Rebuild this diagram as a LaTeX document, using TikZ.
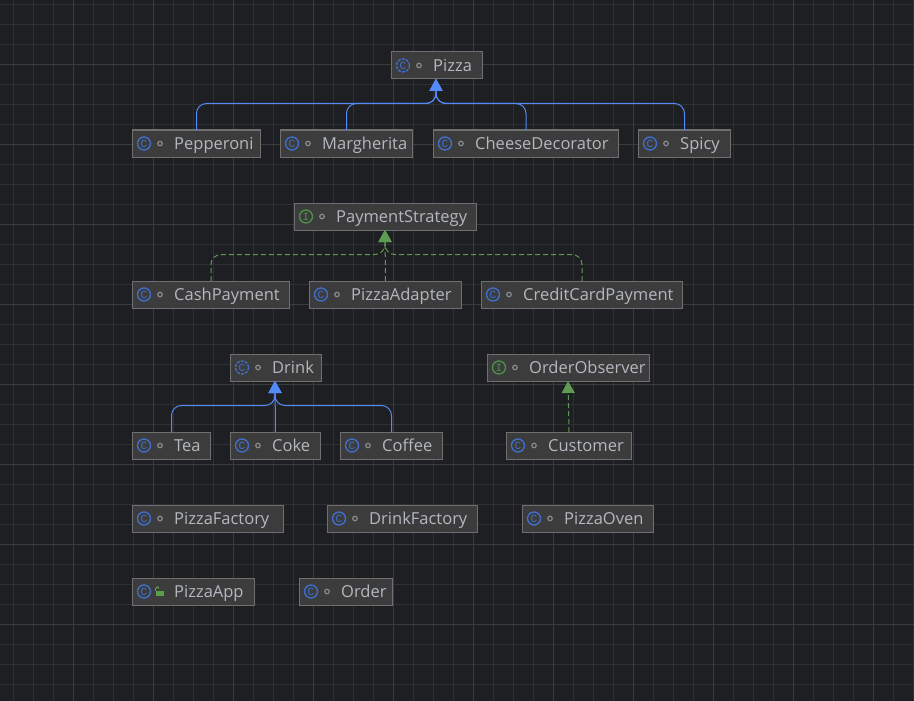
\documentclass[tikz,border=0pt]{standalone}
\usepackage{fontspec}
\setmainfont{Open Sans}
\newfontfamily\iconfont{Liberation Mono}
\usetikzlibrary{arrows.meta}
\definecolor{bgcol}{HTML}{1E1F22}
\definecolor{gridminor}{HTML}{2E3033}
\definecolor{gridmajor}{HTML}{3A3C3E}
\definecolor{boxfill}{HTML}{3C3C3C}
\definecolor{boxedge}{HTML}{6F6F6F}
\definecolor{nametext}{HTML}{B4B8BF}
\definecolor{iconblue}{HTML}{3F6FCF}
\definecolor{icongreen}{HTML}{4F8F4C}
\definecolor{lockgreen}{HTML}{5A9E47}
\definecolor{dotgrey}{HTML}{858B90}
\definecolor{extendblue}{HTML}{548AF7}
\definecolor{implgreen}{HTML}{5F9A52}
\tikzset{
  iconbase/.style={circle,draw,line width=1.3pt,minimum size=13pt,inner sep=0pt,font=\iconfont\fontsize{11}{11}\selectfont,anchor=center,xshift=11.5pt},
  cicon/.style={iconbase,draw=iconblue,text=iconblue},
  aicon/.style={iconbase,draw=iconblue,text=iconblue,dash pattern=on 3pt off 1.2pt},
  iicon/.style={iconbase,draw=icongreen,text=icongreen},
  dotmark/.style={circle,draw=dotgrey,line width=1.2pt,minimum size=4.5pt,inner sep=0pt,anchor=center,xshift=27.5pt},
  nametag/.style={anchor=base west,xshift=41.5pt,yshift=-5.8pt,text=nametext,font=\fontsize{16.5}{17}\selectfont,inner sep=0pt},
  boxbase/.style={draw=boxedge,fill=boxfill,line width=1pt,minimum height=27pt,inner sep=0pt,outer sep=0pt,
    label={[nametag]west:#1}},
  classbox/.style={boxbase=#1,label={[cicon]west:C},label={[dotmark]west:{}}},
  abstractbox/.style={boxbase=#1,label={[aicon]west:C},label={[dotmark]west:{}}},
  ifacebox/.style={boxbase=#1,label={[iicon]west:I},label={[dotmark]west:{}}},
  appbox/.style={boxbase=#1,label={[cicon]west:C}},
  extends/.style={draw=extendblue,line width=1pt,-{Triangle[length=12pt,width=13pt]}},
  implements/.style={draw=implgreen,line width=1pt,dash pattern=on 5pt off 3pt,-{Triangle[length=12pt,width=13pt]}},
}
\begin{document}
\begin{tikzpicture}[x=1pt,y=-1pt]
\useasboundingbox (0,0) rectangle (914,701);
\fill[bgcol] (0,0) rectangle (914,701);
% canvas grid
\foreach \gx in {13.5,33.5,...,913.5} \draw[gridminor,line width=1pt] (\gx,0) -- (\gx,701);
\foreach \gy in {4.5,24.5,...,700.5} \draw[gridminor,line width=1pt] (0,\gy) -- (914,\gy);
\foreach \gx in {73.5,153.5,...,873.5} \draw[gridmajor,line width=1pt] (\gx,0) -- (\gx,701);
\foreach \gy in {64.5,144.5,...,664.5} \draw[gridmajor,line width=1pt] (0,\gy) -- (914,\gy);
% pizza family
\node[abstractbox=Pizza,minimum width=91pt] (pizza) at (437,65.5) {};
\node[classbox=Pepperoni,minimum width=128pt] (pepperoni) at (196.5,143.5) {};
\node[classbox=Margherita,minimum width=132pt] (margherita) at (346.5,143.5) {};
\node[classbox=CheeseDecorator,minimum width=185pt] (cheese) at (526,143.5) {};
\node[classbox=Spicy,minimum width=92pt] (spicy) at (684.5,143.5) {};
% payment family
\node[ifacebox=PaymentStrategy,minimum width=182pt] (payment) at (385.5,216.5) {};
\node[classbox=CashPayment,minimum width=157pt] (cash) at (211,294.5) {};
\node[classbox=PizzaAdapter,minimum width=152pt] (adapter) at (385.5,294.5) {};
\node[classbox=CreditCardPayment,minimum width=201pt] (credit) at (582,294.5) {};
% drinks and observer
\node[abstractbox=Drink,minimum width=91pt] (drink) at (276,367.5) {};
\node[ifacebox=OrderObserver,minimum width=162pt] (observer) at (568.5,367.5) {};
\node[classbox=Tea,minimum width=78pt] (tea) at (171.5,445.5) {};
\node[classbox=Coke,minimum width=90pt] (coke) at (275.5,445.5) {};
\node[classbox=Coffee,minimum width=102pt] (coffee) at (391.5,445.5) {};
\node[classbox=Customer,minimum width=125pt] (customer) at (569,445.5) {};
% the rest
\node[classbox=PizzaFactory,minimum width=151pt] (pizzafactory) at (208,518.5) {};
\node[classbox=DrinkFactory,minimum width=150pt] (drinkfactory) at (402.5,518.5) {};
\node[classbox=PizzaOven,minimum width=131pt] (oven) at (588,518.5) {};
\node[appbox=PizzaApp,minimum width=122pt] (app) at (193.5,591.5) {};
\node[classbox=Order,minimum width=93pt] (order) at (346,591.5) {};
% open lock on PizzaApp
\fill[lockgreen] (156,591) rectangle (163.5,596);
\draw[lockgreen,line width=1pt] (155.5,591) -- (155.5,588.5) arc [start angle=180,end angle=360,radius=1.8];
% bus bars and arrow heads
\coordinate (pizzabus) at (436,103.5);
\coordinate (paybus) at (385,254.5);
\coordinate (drinkbus) at (275,405.5);
\coordinate (pizzahead) at ([xshift=-1pt]pizza.south);
\coordinate (payhead) at ([xshift=-0.5pt]payment.south);
\coordinate (drinkhead) at ([xshift=-1pt]drink.south);
\coordinate (observerhead) at ([xshift=-0.5pt]observer.south);
\draw[extends] (pepperoni.north) [rounded corners=10pt] |- (pizzabus) [rounded corners=4pt] -- (pizzahead);
\draw[extends] (margherita.north) [rounded corners=10pt] |- (pizzabus) [rounded corners=4pt] -- (pizzahead);
\draw[extends] (cheese.north) [rounded corners=10pt] |- (pizzabus) [rounded corners=4pt] -- (pizzahead);
\draw[extends] (spicy.north) [rounded corners=10pt] |- (pizzabus) [rounded corners=4pt] -- (pizzahead);
\draw[implements] (cash.north) [rounded corners=10pt] |- (paybus) [rounded corners=4pt] -- (payhead);
\draw[implements] (adapter.north) -- (payhead);
\draw[implements] (credit.north) [rounded corners=10pt] |- (paybus) [rounded corners=4pt] -- (payhead);
\draw[extends] (tea.north) [rounded corners=10pt] |- (drinkbus) [rounded corners=4pt] -- (drinkhead);
\draw[extends] (coke.north) -- (drinkhead);
\draw[extends] (coffee.north) [rounded corners=10pt] |- (drinkbus) [rounded corners=4pt] -- (drinkhead);
\draw[implements] (customer.north) -- (observerhead);
\end{tikzpicture}
\end{document}
